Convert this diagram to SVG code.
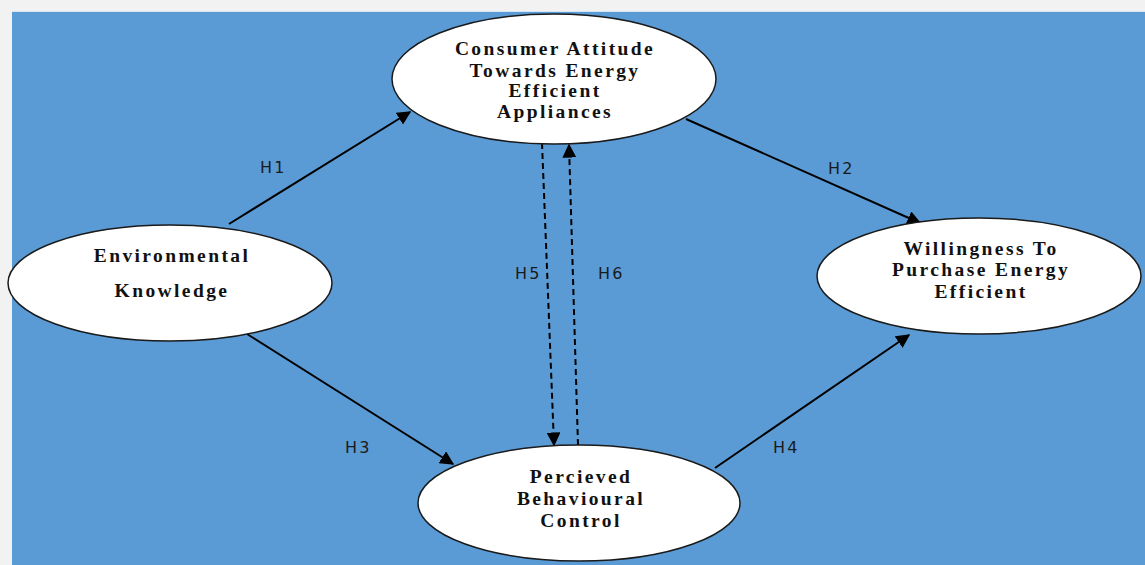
<svg xmlns="http://www.w3.org/2000/svg" width="1145" height="565" viewBox="0 0 1145 565">
<defs>
<style>
.node ellipse{fill:#ffffff;stroke:#1a1a1a;stroke-width:1.5}
.node text{font-family:"Liberation Serif","Times New Roman",serif;font-weight:bold;font-size:19.5px;fill:#111;text-anchor:middle;letter-spacing:2.4px}
.edge{stroke:#000;stroke-width:2;fill:none}
.dash{stroke-dasharray:6,4}
.lbl{font-family:"DejaVu Sans",Verdana,sans-serif;font-size:16px;fill:#1a1a1a;letter-spacing:2.2px}
</style>
<marker id="ahl" viewBox="0 0 10 10" refX="9" refY="5" markerWidth="14" markerHeight="14" markerUnits="userSpaceOnUse" orient="auto">
<path d="M0,0 L10,5 L0,10 z" fill="#000"/>
</marker>
</defs>
<rect x="0" y="0" width="1145" height="565" fill="#f2f2f2"/>
<rect x="12" y="11" width="1133" height="554" fill="#5b9bd5"/>
<line x1="12" y1="11.5" x2="1145" y2="11.5" stroke="#d6e4f2" stroke-width="1"/>

<g id="connectors">
<line class="edge" x1="229" y1="224" x2="410" y2="112" marker-end="url(#ahl)"/>
<line class="edge" x1="686" y1="119" x2="920" y2="223" marker-end="url(#ahl)"/>
<line class="edge" x1="247" y1="334" x2="453" y2="464" marker-end="url(#ahl)"/>
<line class="edge" x1="715" y1="468" x2="909" y2="335" marker-end="url(#ahl)"/>
<line class="edge dash" x1="542" y1="143" x2="554" y2="445" marker-end="url(#ahl)"/>
<line class="edge dash" x1="578" y1="445" x2="569" y2="145" marker-end="url(#ahl)"/>
<text class="lbl" x="260" y="173">H1</text>
<text class="lbl" x="828" y="174">H2</text>
<text class="lbl" x="345" y="453">H3</text>
<text class="lbl" x="773" y="453">H4</text>
<text class="lbl" x="515" y="279">H5</text>
<text class="lbl" x="598" y="279">H6</text>
</g>

<g id="node-attitude" class="node">
<ellipse cx="554" cy="79" rx="162" ry="65"/>
<text x="555" y="55">Consumer Attitude</text>
<text x="555" y="77">Towards Energy</text>
<text x="555" y="97">Efficient</text>
<text x="555" y="118">Appliances</text>
</g>

<g id="node-knowledge" class="node">
<ellipse cx="170" cy="283" rx="162" ry="58"/>
<text x="172" y="262">Environmental</text>
<text x="172" y="297">Knowledge</text>
</g>

<g id="node-willingness" class="node">
<ellipse cx="979" cy="276" rx="162" ry="58"/>
<text x="981" y="255">Willingness To</text>
<text x="981" y="276">Purchase Energy</text>
<text x="981" y="298">Efficient</text>
</g>

<g id="node-pbc" class="node">
<ellipse cx="579" cy="503" rx="161" ry="58"/>
<text x="581" y="483">Percieved</text>
<text x="581" y="505">Behavioural</text>
<text x="581" y="527">Control</text>
</g>
</svg>
